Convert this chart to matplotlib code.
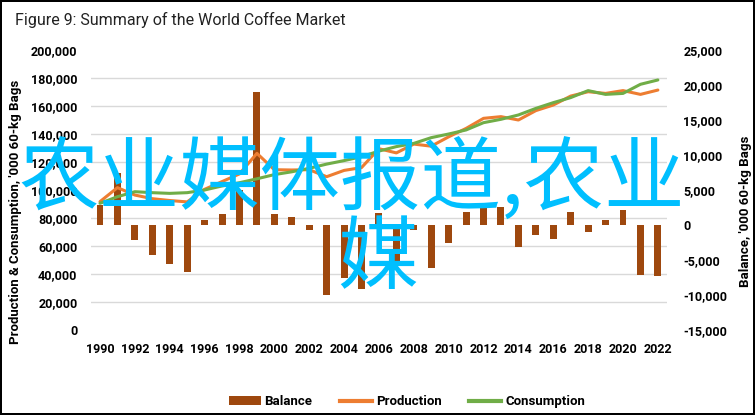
import numpy as np
import matplotlib
matplotlib.use("Agg")
import matplotlib.pyplot as plt
from matplotlib.patches import Patch
from matplotlib.lines import Line2D

years = list(range(1990, 2023))
production = [91.7, 101.7, 96.4, 93.8, 92.5, 91.5, 100.5, 106.0, 111.5, 126.2,
              114.5, 114.3, 114.5, 109.5, 114.0, 116.0, 129.5, 126.5, 132.8, 131.3,
              138.0, 144.0, 151.2, 152.4, 150.0, 156.7, 160.7, 167.1, 170.2, 169.0,
              171.0, 168.3, 171.4]
consumption = [90.5, 95.2, 98.8, 98.1, 97.6, 98.1, 100.0, 102.9, 105.2, 108.0,
               111.0, 113.0, 115.5, 118.5, 121.0, 123.8, 127.8, 131.0, 133.3, 137.4,
               140.0, 142.9, 148.1, 150.5, 153.6, 158.3, 162.4, 166.0, 171.0, 168.3,
               169.0, 175.5, 178.6]
balance = [2900, 7500, -2100, -4300, -5500, -6700, 700, 1600, 5000, 19000,
           1600, 1100, -700, -10000, -7600, -9200, 1700, -5400, -700, -6200,
           -2500, 1900, 3100, 2600, -3100, -1400, -2000, 1900, -1000, 700,
           2100, -7100, -7300]
production = [v * 1000 for v in production]
consumption = [v * 1000 for v in consumption]

left_ticks = list(range(0, 200001, 20000))
right_ticks = list(range(-15000, 25001, 5000))
x_ticks = list(range(1990, 2023, 2))

title = "Figure 9: Summary of the World Coffee Market"
left_label = "Production & Consumption, '000 60-kg Bags"
right_label = "Balance, '000 60-kg Bags"
watermark1 = "农业媒体报道,农业"
watermark2 = "媒"

C_BAL = "#9E480E"
C_PROD = "#ED7D31"
C_CONS = "#70AD47"
FONT = "Roboto"

plt.rcParams['font.family'] = [FONT, 'DejaVu Sans']

fig = plt.figure(figsize=(7.55, 4.15), dpi=100)
fig.patch.set_facecolor("white")
fig.patch.set_edgecolor("black")
fig.patch.set_linewidth(1.5)

ax = fig.add_axes([0.1209, 0.2048, 0.762, 0.6747])
ax2 = ax.twinx()

tick_font = dict(fontsize=9, fontweight='bold', family=[FONT, 'DejaVu Sans'])

# bars on right axis (behind)
ax2.bar(years, balance, width=0.4, color=C_BAL, zorder=3)
ax2.set_ylim(-15000, 25000)
ax2.set_yticks(right_ticks)
ax2.set_yticklabels([f"{v:,}" for v in right_ticks], **tick_font)
# gridlines aligned with left ticks, drawn on the bar axes so they sit below bars
lo, hi = -15000, 25000
grid_right = [lo + (v / 200000) * (hi - lo) for v in left_ticks]
ax2.set_yticks(grid_right, minor=True)
ax2.grid(which='minor', axis='y', color="#D9D9D9", linewidth=1.0, zorder=0)
ax2.set_axisbelow(True)
ax2.tick_params(which='minor', length=0)

# lines on left axis (front)
ax.plot(years, production, color=C_PROD, linewidth=2.2, solid_capstyle='round', zorder=4)
ax.plot(years, consumption, color=C_CONS, linewidth=2.2, solid_capstyle='round', zorder=5)
ax.set_ylim(0, 200000)
ax.set_yticks(left_ticks)
ax.set_yticklabels([f"{v:,}" for v in left_ticks], **tick_font)
ax.set_xlim(1989.5, 2022.5)
ax.set_xticks(x_ticks)
ax.set_xticklabels([str(y) for y in x_ticks], **tick_font)

ax.set_zorder(ax2.get_zorder() + 1)
ax.patch.set_visible(False)

for a in (ax, ax2):
    for s in a.spines.values():
        s.set_visible(False)
    a.tick_params(length=0)

ax.tick_params(axis='y', pad=10)
ax.tick_params(axis='x', pad=9)
ax2.tick_params(axis='y', pad=12)

fig.text(0.021, 0.49, left_label, rotation=90, ha='center', va='center',
         fontsize=9.5, fontweight='bold')
fig.text(0.987, 0.49, right_label, rotation=90, ha='center', va='center',
         fontsize=9.5, fontweight='bold')

fig.text(0.02, 0.952, title, ha='left', va='center', fontsize=11.5, color="#222222")

handles = [Patch(facecolor=C_BAL, edgecolor='none'),
           Line2D([0], [0], color=C_PROD, linewidth=3),
           Line2D([0], [0], color=C_CONS, linewidth=3)]
leg = fig.legend(handles, ["Balance", "Production", "Consumption"], ncol=3,
                 loc='center', bbox_to_anchor=(0.539, 0.032), frameon=False,
                 prop={'family': FONT, 'weight': 'bold', 'size': 9.5},
                 handlelength=2.4, handleheight=0.6, columnspacing=2.1, handletextpad=0.3)

wm = dict(color="#00BFFF", fontsize=58, family=['Noto Sans CJK SC', 'DejaVu Sans'],
          ha='center', va='center', zorder=10)
fig.text(0.466, 0.565, watermark1, **wm)
fig.text(0.50, 0.374, watermark2, **wm)

fig.savefig("out.png", dpi=100, facecolor="white", edgecolor="black")
